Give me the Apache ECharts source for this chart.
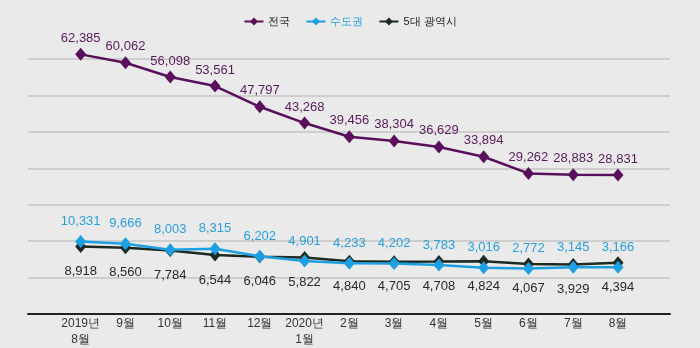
<!DOCTYPE html>
<html>
<head>
<meta charset="utf-8">
<script src="https://cdn.jsdelivr.net/npm/echarts@6/dist/echarts.min.js"></script>
<style>
html,body{margin:0;padding:0;background:#eaeaea;}
#chart{width:700px;height:348px;}
</style>
</head>
<body>
<div id="chart"></div>
<script>
const categories = ['2019년\n8월','9월','10월','11월','12월','2020년\n1월','2월','3월','4월','5월','6월','7월','8월'];
const seriesNames = ['전국','수도권','5대 광역시'];
const nationwide = [62385,60062,56098,53561,47797,43268,39456,38304,36629,33894,29262,28883,28831];
const capital = [10331,9666,8003,8315,6202,4901,4233,4202,3783,3016,2772,3145,3166];
const metro = [8918,8560,7784,6544,6046,5822,4840,4705,4708,4824,4067,3929,4394];

const colors = ['#5a0f5c','#1d9fe3','#1c2a22'];
const labelColors = ['#5a1a5e','#2a9fdf','#2a2a2a'];
const labelDist = [3, 7, 12];
const fmt = v => v.value.toLocaleString('en-US');
const font = '"Liberation Sans", Arial, sans-serif';

const chart = echarts.init(document.getElementById('chart'));
function mk(i, data, pos){
  return {
    name: seriesNames[i], type:'line', data: data, xAxisIndex:1, yAxisIndex:1,
    symbol:'diamond', symbolSize:[11,13],
    lineStyle:{color:colors[i], width:2.5},
    itemStyle:{color:colors[i]},
    label:{show:true, position:pos, distance:labelDist[i], formatter:fmt,
      color:labelColors[i], fontSize:13, fontFamily:font},
    z: 3 - i, animation:false
  };
}
chart.setOption({
  backgroundColor:'#eaeaea',
  animation:false,
  legend:{
    top:11, left:'center', itemWidth:19, itemHeight:10, itemGap:15,
    textStyle:{fontSize:11, fontFamily:font, color:'#222'},
    data:[
      {name:'전국', textStyle:{color:'#222'}},
      {name:'수도권', textStyle:{color:'#1d9fe3'}},
      {name:'5대 광역시', textStyle:{color:'#222'}}
    ]
  },
  grid:[
    {left:28, right:30, top:59, bottom:34},
    {left:80.7, right:82, top:27, bottom:34}
  ],
  xAxis:[
    {gridIndex:0, type:'value', min:0, max:1, axisLabel:{show:false}, axisTick:{show:false},
     splitLine:{show:false}, axisLine:{show:true, lineStyle:{color:'#222', width:2}}},
    {gridIndex:1, type:'category', data:categories, boundaryGap:false,
     axisLine:{show:false}, axisTick:{show:false}, splitLine:{show:false},
     axisLabel:{margin:8, color:'#333', fontSize:12, lineHeight:16, fontFamily:font, interval:0}}
  ],
  yAxis:[
    {gridIndex:0, type:'value', min:0, max:7, interval:1, axisLabel:{show:false},
     axisLine:{show:false}, axisTick:{show:false},
     splitLine:{show:true, lineStyle:{color:'#c4c4c4', width:1.5}}},
    {gridIndex:1, type:'value', min:-8200, max:70000, axisLabel:{show:false},
     axisLine:{show:false}, axisTick:{show:false}, splitLine:{show:false}}
  ],
  series:[
    mk(0, nationwide, 'top'),
    mk(1, capital, 'top'),
    mk(2, metro, 'bottom')
  ]
});
</script>
</body>
</html>
